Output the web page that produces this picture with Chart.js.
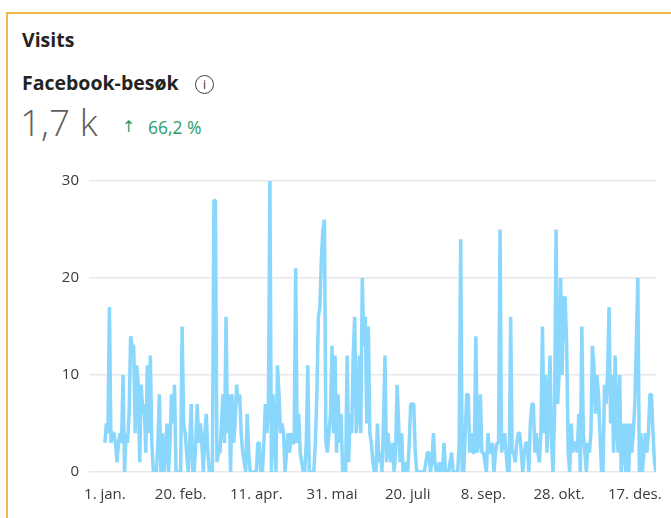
<!DOCTYPE html>
<html lang="nb">
<head>
<meta charset="UTF-8">
<title>Visits</title>
<script src="https://cdn.jsdelivr.net/npm/chart.js"></script>
<style>
    body { margin: 0; background: #fff; font-family: "Open Sans", "Noto Sans", sans-serif; overflow: hidden; }
    .card { position: absolute; left: 6px; top: 12px; width: 700px; height: 540px; border-left: 2px solid #f2b84b; border-top: 2px solid #f2b84b; }
    .title { position: absolute; left: 22px; top: 28px; font-size: 19.5px; font-weight: 700; color: #252423; line-height: 24px; }
    .metric { position: absolute; left: 22px; top: 71px; font-size: 19.5px; font-weight: 700; color: #252423; line-height: 24px; }
    .info { position: absolute; left: 195px; top: 75px; width: 17px; height: 17px; border: 1.4px solid #444; border-radius: 50%; font-size: 12px; line-height: 17px; text-align: center; color: #333; }
    .value { position: absolute; left: 20px; top: 102px; font-size: 37px; font-weight: 300; color: #605e5c; line-height: 40px; }
    .arrow { position: absolute; left: 122px; top: 117px; font-family: "DejaVu Sans", sans-serif; font-size: 16px; color: #2e9b6c; line-height: 20px; }
    .change { position: absolute; left: 148px; top: 117px; font-size: 17.5px; color: #2e9b6c; line-height: 20px; }
    canvas { position: absolute; left: 0; top: 160px; }
</style>
</head>
<body>
<div class="card"></div>
<div class="title">Visits</div>
<div class="metric">Facebook-besøk</div>
<div class="info">i</div>
<div class="value">1,7 k</div>
<div class="arrow">↑</div>
<div class="change">66,2 %</div>
<canvas id="visitsChart" width="671" height="358"></canvas>

<script>
    // one value per day, 1 jan -> 31 des
    const visits = [
        3, 5, 4, 17, 3, 4, 4, 3, 1, 3,
        4, 3, 10, 0, 4, 3, 6, 14, 13, 13,
        4, 11, 9, 1, 9, 6, 7, 2, 11, 4,
        12, 3, 0, 0, 0, 3, 8, 0, 4, 0,
        2, 5, 0, 3, 8, 5, 9, 0, 0, 0,
        0, 15, 5, 4, 2, 0, 3, 7, 0, 0,
        3, 7, 3, 5, 3, 0, 4, 6, 2, 0,
        0, 0, 28, 28, 1, 2, 2, 5, 8, 3,
        16, 4, 8, 0, 8, 3, 5, 9, 7, 8,
        4, 2, 1, 0, 6, 2, 0, 0, 0, 0,
        0, 3, 3, 0, 0, 3, 7, 4, 7, 30,
        0, 8, 4, 0, 11, 8, 4, 5, 4, 0,
        2, 4, 2, 4, 3, 3, 21, 3, 6, 2,
        1, 0, 0, 3, 11, 0, 0, 0, 0, 3,
        8, 16, 17, 22, 25, 26, 3, 2, 4, 6,
        13, 4, 12, 2, 8, 3, 6, 0, 0, 0,
        12, 1, 6, 4, 12, 16, 4, 6, 12, 4,
        20, 13, 16, 5, 15, 4, 3, 1, 0, 0,
        5, 1, 2, 0, 5, 12, 1, 4, 2, 1,
        3, 0, 2, 9, 5, 1, 4, 0, 1, 0,
        0, 3, 7, 7, 7, 2, 0, 0, 0, 0,
        0, 0, 1, 2, 2, 0, 1, 4, 1, 0,
        0, 1, 0, 0, 3, 0, 0, 0, 1, 2,
        0, 0, 0, 0, 3, 24, 0, 0, 4, 8,
        8, 2, 4, 2, 2, 14, 2, 3, 8, 2,
        2, 1, 0, 4, 2, 2, 3, 0, 2, 3,
        3, 25, 2, 3, 4, 2, 0, 0, 16, 2,
        2, 1, 3, 4, 4, 2, 0, 2, 3, 3,
        0, 5, 7, 7, 2, 4, 2, 1, 4, 15,
        4, 10, 2, 7, 12, 3, 0, 6, 25, 7,
        10, 20, 10, 18, 18, 13, 2, 0, 5, 2,
        3, 3, 2, 6, 0, 15, 4, 2, 0, 3,
        2, 4, 13, 11, 6, 10, 8, 4, 0, 0,
        9, 7, 10, 17, 5, 10, 2, 12, 5, 2,
        10, 0, 2, 5, 0, 5, 0, 5, 2, 4,
        7, 13, 20, 0, 4, 0, 2, 4, 2, 4,
        8, 8, 4, 1, 0
    ];
    const tickDays = [0, 50, 100, 150, 200, 250, 300, 350];
    const tickLabels = ['1. jan.', '20. feb.', '11. apr.', '31. mai', '20. juli', '8. sep.', '28. okt.', '17. des.'];
    const yTicks = [0, 10, 20, 30];

    const points = visits.map((v, i) => ({ x: i, y: v }));
    const tickFont = { family: '"Open Sans", "Noto Sans", sans-serif', size: 15 };

    const ctx = document.getElementById('visitsChart').getContext('2d');
    new Chart(ctx, {
        type: 'line',
        data: {
            datasets: [{
                label: 'Facebook-besøk',
                data: points,
                borderColor: '#8ad7fd',
                borderWidth: 3.5,
                borderJoinStyle: 'bevel',
                pointRadius: 0,
                tension: 0,
                fill: false
            }]
        },
        options: {
            responsive: false,
            animation: false,
            devicePixelRatio: 1,
            layout: { padding: { top: 21, right: 15, left: 0, bottom: 0 } },
            plugins: { legend: { display: false }, tooltip: { enabled: false } },
            scales: {
                x: {
                    type: 'linear',
                    min: -10.5,
                    max: 364,
                    grid: { display: false },
                    border: { display: false },
                    afterBuildTicks: s => { s.ticks = tickDays.map(v => ({ value: v })); },
                    afterFit: s => { s.height = 46; },
                    ticks: {
                        autoSkip: false,
                        maxRotation: 0,
                        padding: 6,
                        color: '#3b3a39',
                        font: tickFont,
                        callback: v => tickLabels[tickDays.indexOf(v)]
                    }
                },
                y: {
                    min: 0,
                    max: 30,
                    afterBuildTicks: s => { s.ticks = yTicks.map(v => ({ value: v })); },
                    afterFit: s => { s.width = 89; },
                    grid: { color: '#e8e8e8', lineWidth: 1.5, drawTicks: false },
                    border: { display: false },
                    ticks: {
                        padding: 10,
                        color: '#3b3a39',
                        font: tickFont
                    }
                }
            }
        }
    });
</script>
</body>
</html>
